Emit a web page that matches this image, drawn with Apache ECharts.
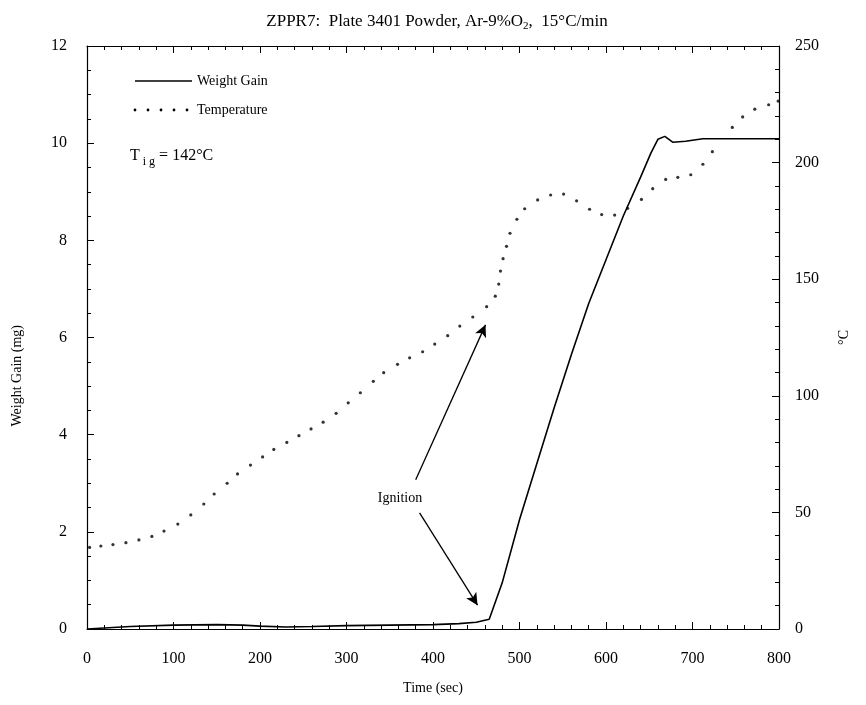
<!DOCTYPE html>
<html><head><meta charset="utf-8">
<script src="https://cdn.jsdelivr.net/npm/echarts@6/dist/echarts.min.js"></script>
<style>html,body{margin:0;padding:0;background:#fff}#c{width:866px;height:705px}</style>
</head><body><div id="c"></div>
<script>
const xTicks = [0,100,200,300,400,500,600,700,800];
const weightTime = [0,20,50,100,150,180,200,230,260,300,350,400,430,450,465,480,500,520,540,560,580,600,620,640,652,660,668,677,692,712,800];
const weightGain = [0,0.02,0.05,0.08,0.09,0.08,0.06,0.04,0.05,0.07,0.08,0.09,0.11,0.14,0.2,0.95,2.25,3.4,4.55,5.65,6.7,7.6,8.5,9.3,9.8,10.08,10.14,10.02,10.04,10.09,10.09];
const tempTime = [3,16,30,45,60,75,89,105,120,135,147,162,174,189,203,216,231,245,259,273,288,302,316,331,343,359,373,388,402,417,431,446,462,472,476,478,481,485,489,497,506,521,536,551,566,581,595,610,625,641,654,669,683,698,712,723,746,758,772,788,799];
const tempVal = [35,35.6,36.2,37,38.2,39.7,42,45,48.9,53.6,57.9,62.5,66.5,70.3,73.8,77,80,82.9,85.8,88.7,92.5,97,101.3,106.2,109.9,113.5,116.3,118.9,122.2,125.8,129.9,133.8,138.2,142.7,147.9,153.5,158.8,164.1,169.7,175.7,180.2,184,186.1,186.5,183.6,180,177.7,177.5,180.4,184.2,188.8,192.8,193.7,194.8,199.3,204.7,215.1,219.6,222.9,224.8,226.4];
// ignition arrows: [startTime, startWeight, endTime, endWeight]
const ignitionArrows = [[380,3.07,460.7,6.26],[384.5,2.39,451.5,0.49]];

const F = 'Liberation Serif, Times New Roman, serif';
const chart = echarts.init(document.getElementById('c'));
function axisCommon(minorSplit){
  return {
    axisLine:{show:true,onZero:false,lineStyle:{color:'#000',width:1.2}},
    axisTick:{show:true,inside:true,length:7,lineStyle:{color:'#000',width:1}},
    minorTick:{show:true,splitNumber:minorSplit,length:4,lineStyle:{color:'#000',width:1}},
    splitLine:{show:false}
  };
}
const legendDots = [135,148,161,174,187].map(x=>({type:'circle',shape:{cx:x,cy:110,r:1.4},style:{fill:'#000'}}));
chart.setOption({
  animation:false,
  backgroundColor:'#fff',
  title:{
    text:'{a|ZPPR7:  Plate 3401 Powder, Ar-9%O}{s|2}{a|,  15°C/min}',
    left:432, top:6, textAlign:'center',
    textStyle:{fontWeight:'normal',rich:{a:{fontFamily:F,fontSize:17,fontWeight:'normal',color:'#000'},s:{fontFamily:F,fontSize:11,fontWeight:'normal',color:'#000',padding:[10,0,0,0]}}}
  },
  grid:{left:87,right:87,top:46,bottom:76},
  xAxis:[
    Object.assign({type:'value',min:0,max:800,interval:100,position:'bottom',
      name:'Time (sec)',nameLocation:'middle',nameGap:52,
      nameTextStyle:{fontFamily:F,fontSize:14,color:'#000'},
      axisLabel:{fontFamily:F,fontSize:16,color:'#000',margin:22,
        formatter:v=>xTicks.includes(v)?String(v):''}},axisCommon(5)),
    Object.assign({type:'value',min:0,max:800,interval:100,position:'top',
      axisLabel:{show:false}},axisCommon(5))
  ],
  yAxis:[
    Object.assign({type:'value',min:0,max:12,interval:2,position:'left',
      axisLabel:{fontFamily:F,fontSize:16,color:'#000',margin:20}},axisCommon(4)),
    Object.assign({type:'value',min:0,max:250,interval:50,position:'right',
      name:'°C',nameLocation:'middle',nameGap:58,nameRotate:90,
      nameTextStyle:{fontFamily:F,fontSize:14,color:'#000'},
      axisLabel:{fontFamily:F,fontSize:16,color:'#000',margin:16}},axisCommon(5))
  ],
  graphic:[
    {type:'text',left:10,top:325,rotation:Math.PI/2,style:{text:'Weight Gain (mg)',font:'14px '+F,fill:'#000'}},
    {type:'line',shape:{x1:135,y1:81,x2:192,y2:81},style:{stroke:'#000',lineWidth:1.3}},
    {type:'text',x:197,y:81,style:{text:'Weight Gain',font:'14px '+F,fill:'#000',textVerticalAlign:'middle'}},
    ...legendDots,
    {type:'text',x:197,y:110,style:{text:'Temperature',font:'14px '+F,fill:'#000',textVerticalAlign:'middle'}},
    {type:'text',x:130,y:156,style:{rich:{a:{font:'16px '+F,fill:'#000'},s:{font:'12px '+F,fill:'#000',padding:[12,0,0,0]}},text:'{a|T}{s| i g}{a| = 142°C}',textVerticalAlign:'middle'}},
    {type:'text',x:400,y:498,style:{text:'Ignition',font:'14px '+F,fill:'#000',textAlign:'center',textVerticalAlign:'middle'}}
  ],
  series:[
    {name:'Weight Gain',type:'line',xAxisIndex:0,yAxisIndex:0,showSymbol:false,
      data:weightTime.map((t,i)=>[t,weightGain[i]]),
      lineStyle:{color:'#000',width:1.6},
      markLine:{silent:true,symbol:['none','arrow'],symbolSize:[9,12],
        label:{show:false},lineStyle:{color:'#000',width:1.3,type:'solid'},
        data:ignitionArrows.map(a=>[{coord:[a[0],a[1]]},{coord:[a[2],a[3]]}])}},
    {name:'Temperature',type:'scatter',xAxisIndex:0,yAxisIndex:1,symbol:'circle',symbolSize:3.2,
      itemStyle:{color:'#000'},data:tempTime.map((t,i)=>[t,tempVal[i]])}
  ]
});
</script></body></html>
